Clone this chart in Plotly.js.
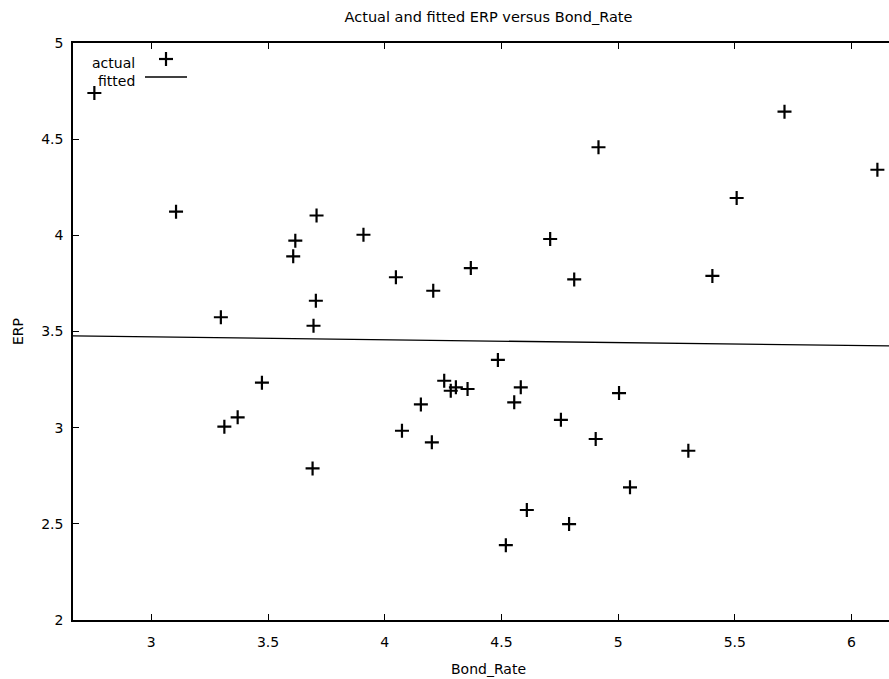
<!DOCTYPE html>
<html>
<head>
<meta charset="utf-8">
<script src="https://cdn.plot.ly/plotly-3.0.1.min.js"></script>
<style>
html,body{margin:0;padding:0;overflow:hidden;background:#fff;}
#chart{width:920px;height:679px;}
</style>
</head>
<body>
<div id="chart"></div>
<script>
// Data
var bondRate = [2.756, 3.106, 3.617, 3.608, 3.708, 3.909, 3.705, 3.695, 3.298, 3.474,
                3.313, 3.370, 3.691, 4.048, 4.208, 4.369, 4.709, 4.812, 4.916, 5.508,
                5.713, 6.111, 5.404, 4.074, 4.155, 4.202, 4.255, 4.283, 4.305, 4.355,
                4.485, 4.583, 4.555, 4.755, 4.904, 4.609, 4.790, 4.519, 5.004, 5.301,
                5.051];
var erpActual = [4.740, 4.123, 3.972, 3.891, 4.103, 4.003, 3.660, 3.530, 3.574, 3.234,
                 3.005, 3.054, 2.788, 3.782, 3.712, 3.830, 3.981, 3.771, 4.458, 4.194,
                 4.643, 4.341, 3.789, 2.984, 3.121, 2.924, 3.244, 3.192, 3.210, 3.201,
                 3.352, 3.210, 3.132, 3.041, 2.941, 2.572, 2.499, 2.389, 3.180, 2.880,
                 2.690];
var fittedX = [2.6645, 6.225];
var fittedY = [3.477, 3.424];
var xTicks = [3, 3.5, 4, 4.5, 5, 5.5, 6];
var yTicks = [2, 2.5, 3, 3.5, 4, 4.5, 5];

var FONT = 'DejaVu Sans, Verdana, sans-serif';
var FS = 14;

var traces = [
  {
    x: bondRate, y: erpActual, name: 'actual', type: 'scatter', mode: 'markers',
    marker: {symbol: 'cross-thin', size: 10, color: '#000', line: {color: '#000', width: 2.2}},
    showlegend: false, cliponaxis: false
  },
  {
    x: fittedX, y: fittedY, name: 'fitted', type: 'scatter', mode: 'lines',
    line: {color: '#000', width: 1.3}, showlegend: false
  }
];

// legend drawn gnuplot-style: text right aligned, sample on its right
var L = 73, W = 831, B = 620, H = 577;
var lx = function(px){ return (px - L) / W; };
var ly = function(py){ return (B - py) / H; };

var layout = {
  width: 920, height: 679,
  margin: {l: L, r: 920 - L - W, t: 679 - 59 - H, b: 59},
  paper_bgcolor: '#fff', plot_bgcolor: '#fff',
  font: {family: FONT, size: FS, color: '#000'},
  title: {text: 'Actual and fitted ERP versus Bond_Rate', font: {family: FONT, size: 14.5, color: '#000'},
          x: 0.5, xref: 'paper', y: 1 - 17/679, yref: 'container', yanchor: 'middle'},
  xaxis: {
    range: [2.6645, 6.225], tickvals: xTicks, ticktext: xTicks.map(String),
    showgrid: false, zeroline: false, showline: true, linecolor: '#000', linewidth: 1.6,
    mirror: 'ticks', ticks: 'inside', ticklen: 6, tickcolor: '#000', tickwidth: 1,
    ticklabelstandoff: 9,
    title: {text: 'Bond_Rate', font: {family: FONT, size: FS, color: '#000'}, standoff: 15}
  },
  yaxis: {
    range: [2, 5], tickvals: yTicks, ticktext: yTicks.map(String),
    showgrid: false, zeroline: false, showline: true, linecolor: '#000', linewidth: 1.8,
    mirror: 'ticks', ticks: 'inside', ticklen: 6, tickcolor: '#000', tickwidth: 1,
    ticklabelstandoff: 5,
    title: {text: 'ERP', font: {family: FONT, size: FS, color: '#000'}, standoff: 14}
  },
  annotations: [
    {text: 'actual', xref: 'paper', yref: 'paper', x: lx(137), y: ly(63), xanchor: 'right', yanchor: 'middle',
     showarrow: false, font: {family: FONT, size: FS, color: '#000'}},
    {text: 'fitted', xref: 'paper', yref: 'paper', x: lx(137), y: ly(81), xanchor: 'right', yanchor: 'middle',
     showarrow: false, font: {family: FONT, size: FS, color: '#000'}}
  ],
  shapes: [
    {type: 'line', xref: 'paper', yref: 'paper', x0: lx(159), x1: lx(173), y0: ly(59), y1: ly(59), line: {color: '#000', width: 2.2}},
    {type: 'line', xref: 'paper', yref: 'paper', x0: lx(166), x1: lx(166), y0: ly(52), y1: ly(66), line: {color: '#000', width: 2.2}},
    {type: 'line', xref: 'paper', yref: 'paper', x0: lx(145), x1: lx(187), y0: ly(77), y1: ly(77), line: {color: '#000', width: 1.3}}
  ],
  showlegend: false
};

Plotly.newPlot('chart', traces, layout, {displayModeBar: false, staticPlot: true});
</script>
</body>
</html>
